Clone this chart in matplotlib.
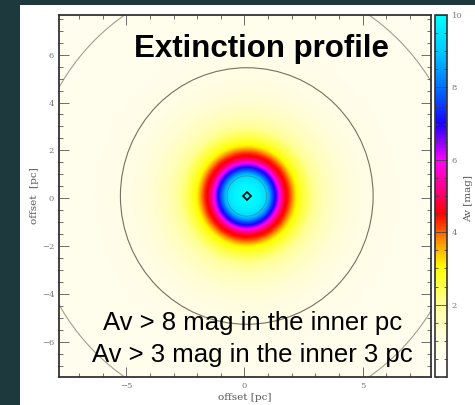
import numpy as np
import matplotlib
matplotlib.use('Agg')
import matplotlib.pyplot as plt
from matplotlib.colors import LinearSegmentedColormap
from matplotlib.patches import Circle, Rectangle
from matplotlib.ticker import MultipleLocator

# radial extinction profile (r in pc, Av in mag)
prof_r = [0.0, 0.5, 0.8, 0.95, 1.1, 1.25, 1.38, 1.5, 1.65, 1.8, 1.95, 2.1, 2.4, 2.8, 3.3, 4.0, 5.0, 6.5, 12.0]
prof_av = [10.0, 9.8, 9.4, 8.6, 7.6, 6.8, 6.0, 5.2, 4.6, 4.25, 3.7, 3.1, 2.6, 2.1, 1.6, 1.2, 0.9, 0.65, 0.5]
centre = (0.1, 0.1)
circle_radii = [5.35, 9.15]

# colour table of the Av scale
cmap_levels = [0.0, 1.0, 2.0, 3.0, 3.7, 4.5, 5.2, 6.0, 7.0, 8.0, 9.0, 10.0]
cmap_colors = ['#ffffff', '#fffde0', '#ffff9a', '#ffff00', '#ff9900', '#ff0000',
               '#ff0088', '#ff00ff', '#1a00ff', '#0070ff', '#00c8ff', '#00ffff']

title = 'Extinction profile'
notes = ['Av > 8 mag in the inner pc', 'Av > 3 mag in the inner 3 pc']

if __name__ == '__main__':
    cmap = LinearSegmentedColormap.from_list(
        'av', list(zip(np.array(cmap_levels) / 10.0, cmap_colors)))

    fig = plt.figure(figsize=(4.75, 4.05), dpi=100)
    fig.patch.set_facecolor('#1d393d')
    fig.patches.append(Rectangle((20 / 475, 0), 1, 400 / 405, transform=fig.transFigure,
                                 facecolor='white', edgecolor='none', zorder=-5))

    ax = fig.add_axes([59 / 475, 28 / 405, 372 / 475, 362 / 405])
    xmin, xmax, ymin, ymax = -7.85, 7.9, -7.45, 7.65
    x = np.linspace(xmin, xmax, 400)
    y = np.linspace(ymin, ymax, 400)
    X, Y = np.meshgrid(x, y)
    R = np.hypot(X - centre[0], Y - centre[1])
    av = np.interp(R, prof_r, prof_av)
    im = ax.imshow(av, origin='lower', extent=[xmin, xmax, ymin, ymax], cmap=cmap,
                   vmin=0, vmax=10, interpolation='bilinear', aspect='auto')
    ax.contour(X, Y, av, levels=[9.2], colors='#2a9aa8', linewidths=0.6)
    ax.add_patch(Circle(centre, circle_radii[0], fill=False, edgecolor='#77705e', lw=0.8))
    ax.add_patch(Circle(centre, circle_radii[1], fill=False, edgecolor='#a39d8a', lw=0.8))
    ax.plot(centre[0], centre[1], 'D', ms=4, mfc='none', mec='black', mew=1.2)
    ax.set_xlim(xmin, xmax)
    ax.set_ylim(ymin, ymax)

    ax.xaxis.set_major_locator(MultipleLocator(5))
    ax.xaxis.set_minor_locator(MultipleLocator(1))
    ax.yaxis.set_major_locator(MultipleLocator(2))
    ax.yaxis.set_minor_locator(MultipleLocator(0.5))
    ax.tick_params(which='both', direction='in', top=True, right=True,
                   labelsize=6, labelcolor='#777777', color='#555555', width=0.6)
    ax.tick_params(which='major', length=7)
    ax.tick_params(which='minor', length=3)
    for lab in ax.get_xticklabels() + ax.get_yticklabels():
        lab.set_family('DejaVu Serif')
    for s in ax.spines.values():
        s.set_linewidth(1.3)
        s.set_color('#333333')
    ax.set_xlabel('offset [pc]', family='DejaVu Serif', fontsize=7.5, color='#555555', labelpad=2)
    ax.set_ylabel('offset  [pc]', family='DejaVu Serif', fontsize=7.5, color='#555555', labelpad=2)

    ax.text(0.545, 0.905, title, transform=ax.transAxes, ha='center', va='center',
            fontsize=22.5, fontweight='bold', family='Liberation Sans', color='black')
    ax.text(0.52, 0.148, notes[0], transform=ax.transAxes, ha='center', va='center',
            fontsize=18.5, family='Liberation Sans', color='black')
    ax.text(0.52, 0.06, notes[1], transform=ax.transAxes, ha='center', va='center',
            fontsize=18.5, family='Liberation Sans', color='black')

    cax = fig.add_axes([435 / 475, 28 / 405, 12 / 475, 362 / 405])
    cb = fig.colorbar(im, cax=cax)
    cb.set_ticks([2, 4, 6, 8, 10])
    cb.ax.yaxis.set_minor_locator(MultipleLocator(0.5))
    cb.ax.tick_params(which='both', direction='in', left=True, right=True,
                      labelsize=6, labelcolor='#777777', color='#444444', width=0.6)
    cb.ax.tick_params(which='major', length=4)
    cb.ax.tick_params(which='minor', length=2)
    for lab in cb.ax.get_yticklabels():
        lab.set_family('DejaVu Serif')
    cb.outline.set_linewidth(1.2)
    cb.outline.set_edgecolor('#333333')
    fig.text(469 / 475, (405 - 199) / 405, 'Av [mag]', rotation=90,
             ha='center', va='center', family='DejaVu Serif', fontsize=7.5, color='#555555')

    fig.savefig('out.png', dpi=100, facecolor=fig.get_facecolor())
